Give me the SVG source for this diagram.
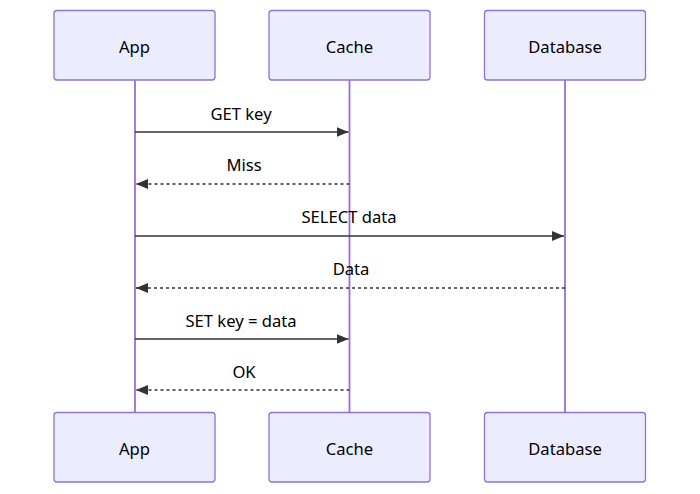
<svg xmlns="http://www.w3.org/2000/svg" width="700" height="494" viewBox="0 0 700 494">
<style>
.actor{fill:#ECECFF;stroke:#9370DB;stroke-width:1.3}
.life{stroke:#9370DB;stroke-width:1.8}
.t{font-family:"Noto Sans","Open Sans",sans-serif;font-size:16.6px;fill:#000;text-anchor:middle;dominant-baseline:central}
.msg{stroke:#333;stroke-width:1.5;fill:none}
.dash{stroke-dasharray:3,3}
</style>
<defs>
<marker id="ah" viewBox="0 0 12 10" refX="12" refY="5" markerWidth="12" markerHeight="10" markerUnits="userSpaceOnUse" orient="auto">
<path d="M0,0 L12,5 L0,10 z" fill="#333"/>
</marker>
</defs>
<g id="lifelines">
<line class="life" x1="135" y1="80" x2="135" y2="412"/>
<line class="life" x1="349.5" y1="80" x2="349.5" y2="412"/>
<line class="life" x1="565" y1="80" x2="565" y2="412"/>
</g>
<g id="app-top"><rect class="actor" x="54" y="10.5" width="161" height="69.5" rx="3"/><text class="t" x="134.5" y="46">App</text></g>
<g id="cache-top"><rect class="actor" x="269" y="10.5" width="161" height="69.5" rx="3"/><text class="t" x="349.5" y="46">Cache</text></g>
<g id="db-top"><rect class="actor" x="484.5" y="10.5" width="161" height="69.5" rx="3"/><text class="t" x="565" y="46">Database</text></g>
<g id="app-bottom"><rect class="actor" x="54" y="412.5" width="161" height="69.5" rx="3"/><text class="t" x="134.5" y="448">App</text></g>
<g id="cache-bottom"><rect class="actor" x="269" y="412.5" width="161" height="69.5" rx="3"/><text class="t" x="349.5" y="448">Cache</text></g>
<g id="db-bottom"><rect class="actor" x="484.5" y="412.5" width="161" height="69.5" rx="3"/><text class="t" x="565" y="448">Database</text></g>
<g id="connectors">
<line class="msg" x1="135" y1="132" x2="348.5" y2="132" marker-end="url(#ah)"/>
<text class="t" x="241" y="113">GET key</text>
<line class="msg dash" x1="349.5" y1="184" x2="136" y2="184" marker-end="url(#ah)"/>
<text class="t" x="244" y="164">Miss</text>
<line class="msg" x1="135" y1="236" x2="564" y2="236" marker-end="url(#ah)"/>
<text class="t" x="349" y="216">SELECT data</text>
<line class="msg dash" x1="565" y1="288" x2="136" y2="288" marker-end="url(#ah)"/>
<text class="t" x="351" y="268">Data</text>
<line class="msg" x1="135" y1="339" x2="348.5" y2="339" marker-end="url(#ah)"/>
<text class="t" x="241" y="320">SET key = data</text>
<line class="msg dash" x1="349.5" y1="390" x2="136" y2="390" marker-end="url(#ah)"/>
<text class="t" x="244" y="371">OK</text>
</g>
</svg>
